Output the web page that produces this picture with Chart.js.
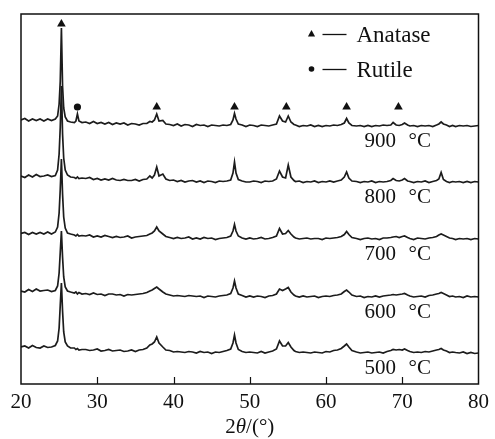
<!DOCTYPE html>
<html>
<head>
<meta charset="utf-8">
<script src="https://cdn.jsdelivr.net/npm/chart.js@4.4.1/dist/chart.umd.min.js"></script>
<style>
  html, body { margin: 0; background: #fff; }
</style>
</head>
<body>
<canvas id="xrd" width="495" height="439"></canvas>
<script>
/* 2θ grid (degrees), denser around the reflections */
const twoTheta = [
  20, 20.5, 21, 21.5, 22, 22.5, 23, 23.5, 24, 24.5,
  24.8, 25, 25.15, 25.3, 25.45, 25.6, 25.8, 26.1, 26.5,
  27, 27.2, 27.4, 27.6, 28,
  28.5, 29, 29.5, 30, 30.5, 31, 31.5, 32, 32.5, 33, 33.5, 34, 34.5, 35, 35.5, 36, 36.5,
  36.9, 37.2, 37.5, 37.8, 38.1, 38.6, 39,
  39.5, 40, 40.5, 41, 41.5, 42, 42.5, 43, 43.5, 44, 44.5, 45, 45.5, 46, 46.5, 47, 47.5,
  47.8, 48, 48.2, 48.5,
  49, 49.5, 50, 50.5, 51, 51.5, 52, 52.5, 53, 53.5,
  53.9, 54.3, 54.7, 55.05, 55.4, 55.8,
  56, 56.5, 57, 57.5, 58, 58.5, 59, 59.5, 60, 60.5, 61, 61.5, 62,
  62.4, 62.7, 63, 63.4,
  64, 64.5, 65, 65.5, 66, 66.5, 67, 67.5, 68, 68.5,
  68.8, 69.2, 69.6, 70, 70.3, 70.7,
  71, 71.5, 72, 72.5, 73, 73.5, 74, 74.5,
  74.8, 75.1, 75.4,
  75.8, 76.2, 76.6, 77, 77.5, 78, 78.5, 79, 79.5, 80
];

/* intensity (a.u.) of each pattern */
const i500 = [
  6, 7, 5, 7.5, 5.5, 5, 7, 5.5, 6, 7.5,
  12, 25, 48, 70, 42, 21, 11, 7, 5,
  5, 3.5, 4.5, 3, 3.5,
  3.5, 2.5, 3, 4, 2, 2.5, 3.5, 2, 2.5, 3, 1.5, 2, 3, 1.5, 3, 3.5, 5,
  8, 9, 11, 16, 10, 6, 3,
  2.5, 1, 1.5, 1, 0.5, 1.5, 1, 0, 1.5, 0.5, 1, -0.5, 1, 0.5, 1.5, 2.5, 4,
  10, 18, 10, 3.5,
  1.5, 0.5, 1, 0.5, 0, 1.5, 0, 1, 2, 4,
  12, 7, 7, 10.5, 6, 2.5,
  1.5, 0.5, 1, 0.5, 0, 1, 0.5, 0, 1.5, 1, 2.5, 3, 4.5,
  7, 9, 6, 2.5,
  1, 0, 0.5, 1, 0, 0.5, 1, 0, 1.5, 2.5,
  3.5, 3, 3.5, 3, 4, 2.5,
  1.5, 0.5, 1, 0.5, 1.5, 1, 2, 3,
  3.5, 4.5, 3,
  2, 0.5, 1, 0.5, 0, 1, -0.5, 0.5, -0.5, 0
];
const i600 = [
  6, 5, 7.5, 5.5, 8, 6, 6.5, 7, 5.5, 6.5,
  11, 24, 45, 66, 40, 20, 10, 6, 5,
  4, 5, 3, 4.5, 3,
  3.5, 2.5, 4, 2.5, 3, 1.5, 3, 3, 2, 2.5, 1, 2.5, 2, 2.5, 3, 3.5, 4.5,
  6, 7, 8.5, 10, 8, 5, 3,
  2, 1, 1.5, 1, 0.5, 1.5, 1, 0.5, 1, -0.5, 1, 0.5, 0, 1, 1.5, 2, 3.5,
  9, 16, 9, 3,
  1.5, 0, 1, 0, 1, 0.5, -0.5, 1, 1.5, 3,
  8, 6.5, 8, 9.5, 5, 2,
  1, 0, 1, 0, 0.5, 1, -0.5, 0.5, 1, 0.5, 1.5, 2, 3,
  5.5, 7, 5, 2,
  0.5, 1, -0.5, 0.5, 0, 1, 0, 1, 1.5, 2,
  2.5, 2, 2.5, 3, 3.5, 2,
  1, 0, 0.5, 1, 0, 1.5, 2, 3,
  3.5, 4.5, 3.5,
  2, 0.5, 1, 0, 0.5, -0.5, 1, 0, 0.5, 0
];
const i700 = [
  5.5, 6.5, 4.5, 6.5, 5, 6.5, 5, 7, 5, 7,
  12, 26, 50, 80, 45, 22, 11, 6, 5,
  4, 3, 4.5, 3, 3.5,
  3, 4, 2, 3, 2, 3.5, 2.5, 1.5, 2.5, 1.5, 2, 3, 1, 2, 2.5, 3, 3.5,
  5, 6, 8, 12, 8, 5, 2.5,
  1.5, 0.5, 1.5, 0.5, 1, 2, 0, 1, 0, 1.5, 0.5, 1, -0.5, 0.5, 1, 1.5, 3,
  8, 14.5, 8, 3,
  1, 0, 1, 0, 0.5, 1.5, 0, 0.5, 1.5, 3,
  10.5, 5, 5.5, 8.5, 5, 2,
  1, 0, 0.5, 1, 0, 0.5, 0.5, -0.5, 1, 0.5, 1, 1.5, 2.5,
  4.5, 7.5, 4.5, 1.5,
  0.5, -0.5, 0.5, 1, 0, 0.5, -0.5, 1, 1, 1.5,
  2, 2.5, 1.5, 2.5, 3, 1.5,
  0.5, -0.5, 1, 0.5, 0, 1, 1.5, 2.5,
  4, 5, 4,
  2.5, 1, 0.5, -0.5, 0.5, 0, 0.5, -0.5, 0.5, 0
];
const i800 = [
  6, 4.5, 7, 5, 7.5, 5.5, 6, 7, 5.5, 6.5,
  12, 28, 55, 96, 48, 24, 12, 7, 5,
  4.5, 3.5, 5, 3.5, 4,
  3.5, 4.5, 2.5, 3.5, 2, 3, 2, 3.5, 2, 1.5, 2.5, 1.5, 1.5, 2.5, 1, 2.5, 3,
  6, 4, 7, 15, 6, 8, 3,
  1.5, 2, 0.5, 1.5, 0, 1, 1.5, 0, 1, -0.5, 1, 0.5, -0.5, 1, 0.5, 1, 2,
  9, 20, 9, 2.5,
  1, 0, 0, 1, 0.5, -0.5, 1, 0.5, 1, 3,
  11, 5, 4, 17, 5, 1.5,
  0.5, 1, -0.5, 0.5, 0, 1, -0.5, 0.5, 0, 1, 0, 1, 2,
  5, 10, 4, 1,
  0.5, -0.5, 0.5, 0, 1, -0.5, 0.5, 0, 0.5, 1.5,
  3.5, 1.5, 1, 2, 3.5, 1,
  0.5, -0.5, 0.5, 0, 1, -0.5, 0.5, 1.5,
  3, 9.5, 2.5,
  0.5, -0.5, 0.5, 0, 0.5, -0.5, 0.5, -0.5, 0.5, 0
];
const i900 = [
  6, 7.5, 5, 7, 5.5, 7, 5, 7, 5.5, 7,
  10, 22, 45, 98, 40, 18, 9, 5, 4,
  3.5, 5, 12, 5, 3.5,
  4, 2.5, 4.5, 2.5, 3.5, 2, 3.5, 1.5, 3, 2, 3, 1, 2.5, 2, 1, 2.5, 2.5,
  4.5, 4, 6, 12, 5, 5.5, 2,
  1.5, 0.5, 2, 0, 1.5, 1, -0.5, 1.5, 0.5, 1, -0.5, 1, 0.5, 0, 1, 0.5, 1.5,
  6, 12.5, 7, 2,
  1, -0.5, 1, 0.5, -0.5, 1, 0.5, 0, 1, 2,
  10, 5, 4, 10, 4, 1.5,
  1, -0.5, 0.5, 0, 1, -0.5, 0.5, -0.5, 0.5, 0, 1, 0.5, 1.5,
  3, 7.5, 3, 0.5,
  0, 0.5, -0.5, 0.5, -0.5, 0.5, 0, 1, 0.5, 1,
  3.5, 1, 0.5, 1.5, 3, 1,
  0, 0.5, -0.5, 0.5, 0, 0.5, -0.5, 1,
  2, 4, 2,
  1, -0.5, 0.5, -0.5, 0.5, 0, 0.5, -0.5, 0, 0.5
];

const temps = ["500", "600", "700", "800", "900"];
const patterns = [i500, i600, i700, i800, i900];
const offsets = [31, 87, 145, 202, 258];   // vertical stacking of the patterns
const anatasePeaks = [25.3, 37.8, 48.0, 54.8, 62.7, 69.5];
const rutilePeaks = [27.4];
const xTicks = [20, 30, 40, 50, 60, 70, 80];

patterns.forEach((p, k) => {
  if (p.length !== twoTheta.length) throw new Error(`pattern ${temps[k]}: ${p.length} vs ${twoTheta.length}`);
});

const SERIF = '"Liberation Serif", "DejaVu Serif", serif';
const INK = "#111";

/* marker sits just above the 900 °C peak it labels */
function markY(x) {
  const top = patterns[4];
  let m = 0;
  twoTheta.forEach((t, i) => { if (Math.abs(t - x) <= 0.6) m = Math.max(m, top[i]); });
  return Math.max(m + offsets[4] + 4, offsets[4] + 19);
}

const traces = patterns.map((p, k) => ({
  type: "line",
  label: temps[k] + " °C",
  data: twoTheta.map((t, i) => ({ x: t, y: p[i] + offsets[k] })),
  borderColor: "#1c1c1c",
  borderWidth: 1.7,
  pointRadius: 0,
  tension: 0,
  fill: false,
}));

const markers = [
  {
    type: "scatter",
    label: "Anatase",
    data: anatasePeaks.map((x) => ({ x, y: markY(x) })),
    pointStyle: "triangle",
    pointRadius: 5,
    backgroundColor: INK,
    borderWidth: 0,
  },
  {
    type: "scatter",
    label: "Rutile",
    data: rutilePeaks.map((x) => ({ x, y: markY(x) })),
    pointStyle: "circle",
    pointRadius: 3.6,
    backgroundColor: INK,
    borderWidth: 0,
  },
];

/* frame, inward ticks, labels, key and axis title */
const decor = {
  id: "decor",
  afterDraw(chart) {
    const { ctx, chartArea: a, scales } = chart;
    const xs = scales.x, ys = scales.y;
    ctx.save();
    ctx.strokeStyle = INK;
    ctx.fillStyle = INK;

    ctx.lineWidth = 1.5;
    ctx.strokeRect(a.left, a.top, a.right - a.left, a.bottom - a.top);

    ctx.lineWidth = 1.2;
    xTicks.slice(1, -1).forEach((v) => {
      const px = Math.round(xs.getPixelForValue(v)) + 0.5;
      ctx.beginPath();
      ctx.moveTo(px, a.bottom);
      ctx.lineTo(px, a.bottom - 7);
      ctx.stroke();
    });

    // temperature labels under each pattern
    ctx.font = `21px ${SERIF}`;
    ctx.textBaseline = "alphabetic";
    ctx.textAlign = "left";
    temps.forEach((t, k) => {
      const px = xs.getPixelForValue(65.05);
      const py = ys.getPixelForValue(offsets[k] - 21);
      ctx.fillText(t, px, py);
      ctx.fillText("°C", px + 44, py);
    });

    // key
    const kx = a.right - 167;
    ctx.font = `23px ${SERIF}`;
    ctx.lineWidth = 1.3;
    [[a.top + 20, "Anatase"], [a.top + 55, "Rutile"]].forEach(([ky, txt], j) => {
      if (j === 0) {
        ctx.beginPath();
        ctx.moveTo(kx, ky - 4);
        ctx.lineTo(kx + 3.6, ky + 2.5);
        ctx.lineTo(kx - 3.6, ky + 2.5);
        ctx.closePath();
        ctx.fill();
      } else {
        ctx.beginPath();
        ctx.arc(kx, ky, 2.8, 0, Math.PI * 2);
        ctx.fill();
      }
      ctx.beginPath();
      ctx.moveTo(kx + 11, ky + 0.5);
      ctx.lineTo(kx + 35, ky + 0.5);
      ctx.stroke();
      ctx.fillText(txt, kx + 45, ky + 8);
    });

    // x-axis title: 2θ/(°)
    const parts = [["2", `21px ${SERIF}`], ["θ", `italic 21px ${SERIF}`], ["/(°)", `21px ${SERIF}`]];
    let w = 0;
    parts.forEach(([s, f]) => { ctx.font = f; w += ctx.measureText(s).width; });
    let tx = (a.left + a.right) / 2 - w / 2;
    parts.forEach(([s, f]) => {
      ctx.font = f;
      ctx.fillText(s, tx, a.bottom + 49);
      tx += ctx.measureText(s).width;
    });
    ctx.restore();
  },
};

new Chart(document.getElementById("xrd").getContext("2d"), {
  data: { datasets: [...traces, ...markers] },
  options: {
    responsive: false,
    animation: false,
    layout: { padding: { left: 21, right: 12, top: 14, bottom: 0 } },
    plugins: { legend: { display: false }, tooltip: { enabled: false } },
    scales: {
      x: {
        type: "linear",
        min: 20,
        max: 80,
        afterBuildTicks: (s) => { s.ticks = xTicks.map((v) => ({ value: v })); },
        afterFit: (s) => { s.height = 55; },
        ticks: { color: INK, font: { family: SERIF, size: 21 }, padding: 6, maxRotation: 0 },
        grid: { display: false, drawTicks: false },
        border: { display: false },
      },
      y: { display: false, min: 0, max: 370 },
    },
  },
  plugins: [decor],
});
</script>
</body>
</html>
